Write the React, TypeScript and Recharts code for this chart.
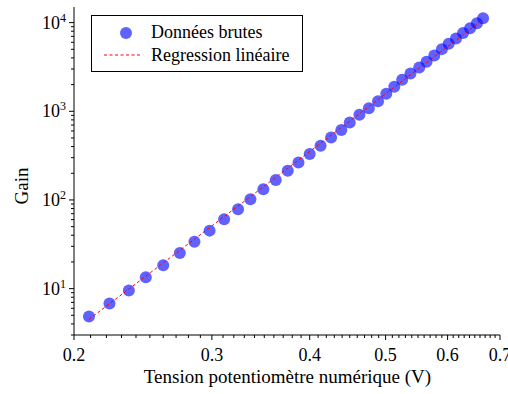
import { ScatterChart, Scatter, XAxis, YAxis, Legend } from "recharts";

// tension du potentiomètre (V) et gain mesuré
const voltage = [
  0.209, 0.222, 0.235, 0.247, 0.26, 0.273, 0.285, 0.298, 0.311, 0.324, 0.336,
  0.349, 0.362, 0.375, 0.387, 0.4, 0.413, 0.426, 0.439, 0.45, 0.463, 0.476,
  0.489, 0.501, 0.513, 0.525, 0.538, 0.552, 0.564, 0.577, 0.59, 0.602, 0.615,
  0.628, 0.641, 0.654, 0.666,
];
const gain = [
  4.85, 6.8, 9.5, 13.4, 18.4, 25.2, 33.8, 45.1, 60.7, 78.7, 102, 132, 168, 213,
  264, 329, 408, 507, 614, 748, 916, 1081, 1298, 1574, 1888, 2265, 2667, 3121,
  3622, 4266, 5023, 5781, 6640, 7620, 8630, 9840, 11190,
];

// droite de régression (extrémités)
const fitVoltage = [0.209, 0.666];
const fitGain = [4.5, 10800];

const xMajorTicks = [0.2, 0.3, 0.4, 0.5, 0.6, 0.7];
const yMajorTicks = [10, 100, 1000, 10000];
const yMantissas = [2, 3, 4, 5, 6, 7, 8, 9];
const yDecades = [1, 10, 100, 1000, 10000];

const X_DOMAIN = [0.2, 0.7];
const Y_DOMAIN = [3, 15000];

const FONT = '"Liberation Serif", "DejaVu Serif", serif';
const txt = { fontFamily: FONT };
const DOT = "rgba(0, 0, 255, 0.62)";

const xTicks: number[] = [];
for (let i = 20; i <= 70; i++) xTicks.push(i / 100);

const yTicks: number[] = [];
yDecades.forEach((d) => {
  yMantissas.forEach((m) => {
    const v = m * d;
    if (v >= Y_DOMAIN[0] && v <= Y_DOMAIN[1]) yTicks.push(v);
  });
  if (d >= Y_DOMAIN[0] && d <= Y_DOMAIN[1] && !yTicks.includes(d)) yTicks.push(d);
});
yTicks.sort((a, b) => a - b);

const points = voltage.map((v, i) => ({ v, g: gain[i] }));
const fit = fitVoltage.map((v, i) => ({ v, g: fitGain[i] }));

const isMajorX = (v: number) => xMajorTicks.some((t) => Math.abs(t - v) < 1e-6);
const isMajorY = (v: number) => yMajorTicks.some((t) => Math.abs(t - v) < 1e-6);

const BottomTick = ({ x, y, payload }: any) => {
  const major = isMajorX(payload.value);
  return (
    <g>
      <line x1={x} x2={x} y1={y} y2={y + (major ? 5 : 3)} stroke="#000" />
      {major && (
        <text x={x} y={y + 26} textAnchor="middle" fontSize={18} fontFamily={FONT} style={txt} fill="#000">
          {payload.value.toFixed(1)}
        </text>
      )}
    </g>
  );
};

const TopTick = ({ x, y, payload }: any) => {
  const major = isMajorX(payload.value);
  return <line x1={x} x2={x} y1={y} y2={y - (major ? 3 : 2)} stroke="#888" />;
};

const LeftTick = ({ x, y, payload }: any) => {
  const major = isMajorY(payload.value);
  const exp = Math.round(Math.log10(payload.value));
  return (
    <g>
      <line x1={x} x2={x - (major ? 5 : 3)} y1={y} y2={y} stroke="#000" />
      {major && (
        <text x={x - 8} y={y + 6} textAnchor="end" fontSize={18} fontFamily={FONT} style={txt} fill="#000">
          10
          <tspan dy={-7} fontSize={12}>
            {exp}
          </tspan>
        </text>
      )}
    </g>
  );
};

const RightTick = ({ x, y, payload }: any) => {
  const major = isMajorY(payload.value);
  return <line x1={x} x2={x + (major ? 3 : 2)} y1={y} y2={y} stroke="#888" />;
};

const LegendBox = () => (
  <svg width={212} height={58} style={{ display: "block" }}>
    <rect x={0.5} y={0.5} width={211} height={56} fill="#fff" stroke="#000" />
    <circle cx={35} cy={18} r={6} fill={DOT} />
    <text x={60} y={23} fontSize={18} fontFamily={FONT} style={txt} fill="#000">
      Données brutes
    </text>
    <line x1={13} x2={50} y1={40} y2={40} stroke="#ff0000" strokeDasharray="3 2.5" />
    <text x={60} y={46} fontSize={18} fontFamily={FONT} style={txt} fill="#000">
      Regression linéaire
    </text>
  </svg>
);

export default function App() {
  return (
    <div style={{ position: "absolute", left: 0, top: 0, background: "#fff", fontFamily: FONT }}>
      <ScatterChart
        width={508}
        height={394}
        margin={{ top: 7, right: 8, bottom: 0, left: 0 }}
        style={txt}
      >
        <XAxis
          xAxisId="b"
          dataKey="v"
          type="number"
          scale="log"
          domain={X_DOMAIN}
          allowDataOverflow
          ticks={xTicks}
          interval={0}
          tickSize={0}
          tickMargin={0}
          tickLine={false}
          tick={<BottomTick />}
          axisLine={{ stroke: "#000" }}
          height={59}
          label={() => (
            <text x={287.5} y={383} textAnchor="middle" fontSize={19} fontFamily={FONT} style={txt} fill="#000">
              Tension potentiomètre numérique (V)
            </text>
          )}
        />
        <XAxis
          xAxisId="t"
          orientation="top"
          type="number"
          scale="log"
          domain={X_DOMAIN}
          allowDataOverflow
          ticks={xTicks}
          interval={0}
          tickSize={0}
          tickMargin={0}
          tickLine={false}
          tick={<TopTick />}
          axisLine={{ stroke: "#000" }}
          height={0}
        />
        <YAxis
          yAxisId="l"
          dataKey="g"
          type="number"
          scale="log"
          domain={Y_DOMAIN}
          allowDataOverflow
          ticks={yTicks}
          interval={0}
          tickSize={0}
          tickMargin={0}
          tickLine={false}
          tick={<LeftTick />}
          axisLine={{ stroke: "#000" }}
          width={74}
          label={() => (
            <text
              x={28}
              y={186}
              transform="rotate(-90 28 186)"
              textAnchor="middle"
              fontSize={19}
              fontFamily={FONT}
              style={txt}
              fill="#000"
            >
              Gain
            </text>
          )}
        />
        <YAxis
          yAxisId="r"
          orientation="right"
          type="number"
          scale="log"
          domain={Y_DOMAIN}
          allowDataOverflow
          ticks={yTicks}
          interval={0}
          tickSize={0}
          tickMargin={0}
          tickLine={false}
          tick={<RightTick />}
          axisLine={{ stroke: "#000" }}
          width={0}
        />
        <Legend
          layout="vertical"
          verticalAlign="middle"
          align="center"
          content={() => <LegendBox />}
          wrapperStyle={{ left: 91, top: 15, width: 212, height: 58 }}
        />
        <Scatter
          name="Données brutes"
          data={points}
          xAxisId="b"
          yAxisId="l"
          isAnimationActive={false}
          shape={(p: any) => <circle cx={p.cx} cy={p.cy} r={6} fill={DOT} />}
        />
        <Scatter
          name="Regression linéaire"
          data={fit}
          xAxisId="b"
          yAxisId="l"
          isAnimationActive={false}
          line={{ stroke: "#ff0000", strokeWidth: 1, strokeDasharray: "3 2.5" }}
          lineType="joint"
          shape={() => <g />}
        />
      </ScatterChart>
    </div>
  );
}
